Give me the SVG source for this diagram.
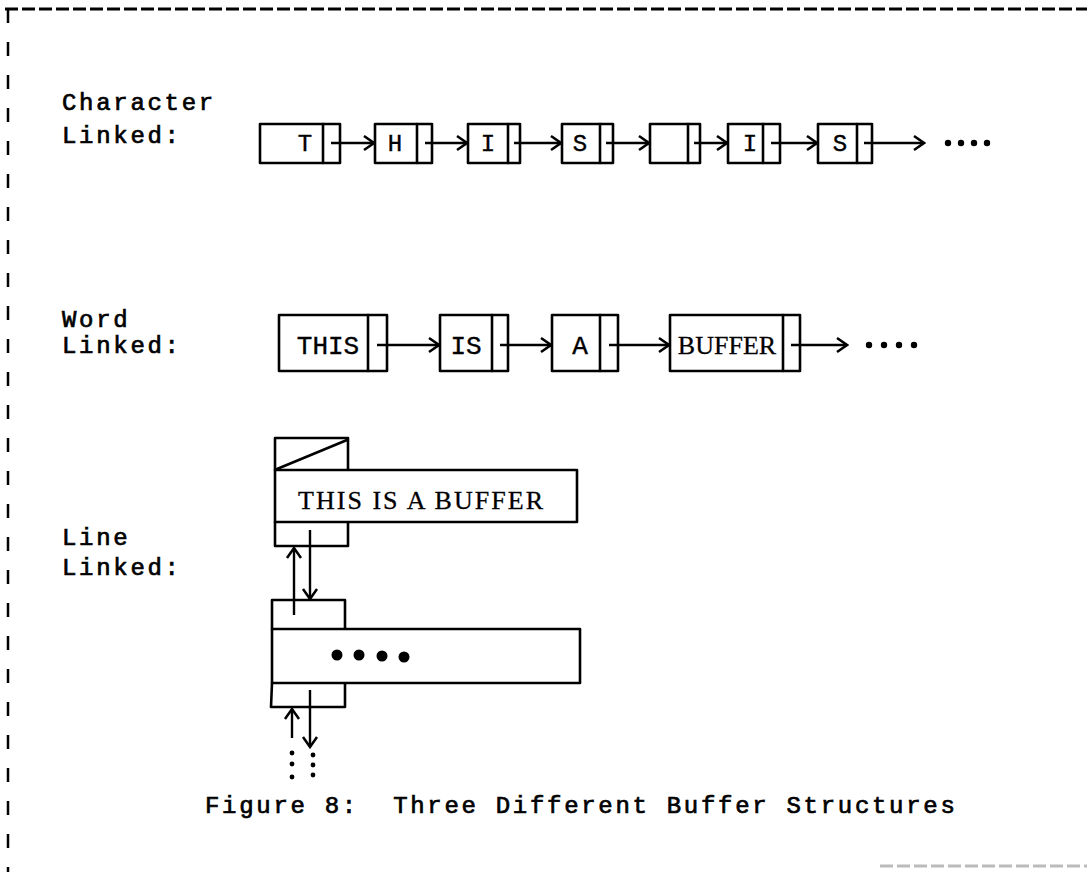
<svg xmlns="http://www.w3.org/2000/svg" width="1087" height="872" viewBox="0 0 1087 872">
<style>
.b{fill:#fff;stroke:#000;stroke-width:2.6;stroke-linejoin:round}
.l{fill:none;stroke:#000;stroke-width:2.6;stroke-linecap:round;stroke-linejoin:round}
.c{fill:none;stroke:#000;stroke-width:2.4;marker-end:url(#ah)}
.lbl{font-family:"Liberation Mono",monospace;font-size:24px;letter-spacing:2.7px;fill:#000;stroke:#000;stroke-width:0.7}
.ch{font-family:"Liberation Mono",monospace;font-size:24px;fill:#000;text-anchor:middle;stroke:#000;stroke-width:0.4}
.wd{font-family:"Liberation Mono",monospace;font-size:26px;fill:#000;text-anchor:middle;stroke:#000;stroke-width:0.4}
.sf{font-family:"Liberation Serif",serif;font-size:26px;fill:#000;stroke:#000;stroke-width:0.3}
.dot{fill:#000}
</style>
<defs>
<marker id="ah" viewBox="-12 -9 14 18" refX="0" refY="0" markerWidth="14" markerHeight="18" markerUnits="userSpaceOnUse" orient="auto">
<path d="M-10,-7 L0,0 L-10,7" fill="none" stroke="#000" stroke-width="2.5"/>
</marker>
</defs>
<rect width="1087" height="872" fill="#fff"/>
<g id="frame">
<line x1="5" y1="9" x2="1087" y2="9" stroke="#000" stroke-width="3" stroke-dasharray="13 4"/>
<line x1="8" y1="9" x2="8" y2="872" stroke="#000" stroke-width="2.5" stroke-dasharray="14 19"/>
<line x1="880" y1="866" x2="1087" y2="866" stroke="#bbb" stroke-width="3" stroke-dasharray="13 4"/>
</g>
<g id="labels">
<text class="lbl" x="62" y="110">Character</text>
<text class="lbl" x="62" y="143">Linked:</text>
<text class="lbl" x="62" y="327">Word</text>
<text class="lbl" x="62" y="353">Linked:</text>
<text class="lbl" x="62" y="545">Line</text>
<text class="lbl" x="62" y="575">Linked:</text>
<text class="lbl" x="205" y="813" xml:space="preserve">Figure 8:  Three Different Buffer Structures</text>
</g>
<g id="char-row">
<g id="c1"><rect class="b" x="260" y="124" width="80" height="39"/><line class="l" x1="323" y1="124" x2="323" y2="163"/><text class="ch" x="305" y="151">T</text></g>
<g id="c2"><rect class="b" x="375" y="124" width="57" height="39"/><line class="l" x1="417" y1="124" x2="417" y2="163"/><text class="ch" x="395" y="151">H</text></g>
<g id="c3"><rect class="b" x="468" y="124" width="52" height="39"/><line class="l" x1="508" y1="124" x2="508" y2="163"/><text class="ch" x="488" y="151">I</text></g>
<g id="c4"><rect class="b" x="562" y="124" width="51" height="39"/><line class="l" x1="600" y1="124" x2="600" y2="163"/><text class="ch" x="580" y="151">S</text></g>
<g id="c5"><rect class="b" x="650" y="124" width="50" height="39"/><line class="l" x1="688" y1="124" x2="688" y2="163"/></g>
<g id="c6"><rect class="b" x="728" y="124" width="52" height="39"/><line class="l" x1="763" y1="124" x2="763" y2="163"/><text class="ch" x="750" y="151">I</text></g>
<g id="c7"><rect class="b" x="818" y="124" width="54" height="39"/><line class="l" x1="857" y1="124" x2="857" y2="163"/><text class="ch" x="840" y="151">S</text></g>
<g id="c-more"><circle class="dot" cx="948" cy="143" r="3.2"/><circle class="dot" cx="961" cy="143" r="3.2"/><circle class="dot" cx="974" cy="143" r="3.2"/><circle class="dot" cx="987" cy="143" r="3.2"/></g>
</g>
<g id="word-row">
<g id="w1"><rect class="b" x="279" y="315" width="108" height="56"/><line class="l" x1="368" y1="315" x2="368" y2="371"/><text class="wd" x="328" y="354">THIS</text></g>
<g id="w2"><rect class="b" x="440" y="315" width="68" height="56"/><line class="l" x1="492" y1="315" x2="492" y2="371"/><text class="wd" x="466" y="354">IS</text></g>
<g id="w3"><rect class="b" x="552" y="315" width="66" height="56"/><line class="l" x1="600" y1="315" x2="600" y2="371"/><text class="wd" x="580" y="354">A</text></g>
<g id="w4"><rect class="b" x="670" y="315" width="130" height="56"/><line class="l" x1="783" y1="315" x2="783" y2="371"/><text class="sf" x="727" y="354" text-anchor="middle" font-size="25">BUFFER</text></g>
<g id="w-more"><circle class="dot" cx="869" cy="345" r="3.2"/><circle class="dot" cx="884" cy="345" r="3.2"/><circle class="dot" cx="899" cy="345" r="3.2"/><circle class="dot" cx="914" cy="345" r="3.2"/></g>
</g>
<g id="line-node-1">
<path class="l" d="M275,470 L275,438 L348,438 L348,470"/>
<line class="l" x1="277" y1="469" x2="347" y2="440"/>
<path class="l" d="M275,522 L275,546 L348,546 L348,522"/>
<rect class="b" x="275" y="470" width="302" height="52"/>
<text class="sf" x="298" y="509" textLength="245" lengthAdjust="spacing">THIS IS A BUFFER</text>
</g>
<g id="line-node-2">
<path class="l" d="M272,629 L272,600 L345,600 L345,629"/>
<path class="l" d="M272,683 L271,707 L345,707 L345,683"/>
<rect class="b" x="272" y="629" width="308" height="54"/>
<circle class="dot" cx="337" cy="655" r="5.5"/><circle class="dot" cx="359" cy="655" r="5.5"/><circle class="dot" cx="382" cy="656" r="5.5"/><circle class="dot" cx="404" cy="657" r="5.5"/>
</g>
<g id="line-more">
<circle class="dot" cx="292" cy="753" r="2.4"/><circle class="dot" cx="292" cy="764" r="2.4"/><circle class="dot" cx="292" cy="777" r="2.4"/>
<circle class="dot" cx="313" cy="755" r="2.4"/><circle class="dot" cx="313" cy="765" r="2.4"/><circle class="dot" cx="313" cy="775" r="2.4"/>
</g>
<g id="connectors">
<line class="c" x1="331" y1="143" x2="374" y2="143"/>
<line class="c" x1="425" y1="143" x2="467" y2="143"/>
<line class="c" x1="514" y1="143" x2="561" y2="143"/>
<line class="c" x1="606" y1="143" x2="649" y2="143"/>
<line class="c" x1="694" y1="143" x2="727" y2="143"/>
<line class="c" x1="771" y1="143" x2="817" y2="143"/>
<line class="c" x1="864" y1="143" x2="924" y2="143"/>
<line class="c" x1="377" y1="345" x2="439" y2="345"/>
<line class="c" x1="500" y1="345" x2="551" y2="345"/>
<line class="c" x1="609" y1="345" x2="669" y2="345"/>
<line class="c" x1="791" y1="345" x2="847" y2="345"/>
<line class="c" x1="294" y1="615" x2="294" y2="548"/>
<line class="c" x1="310" y1="530" x2="310" y2="599"/>
<line class="c" x1="292" y1="738" x2="292" y2="709"/>
<line class="c" x1="310" y1="690" x2="310" y2="747"/>
</g>
</svg>
